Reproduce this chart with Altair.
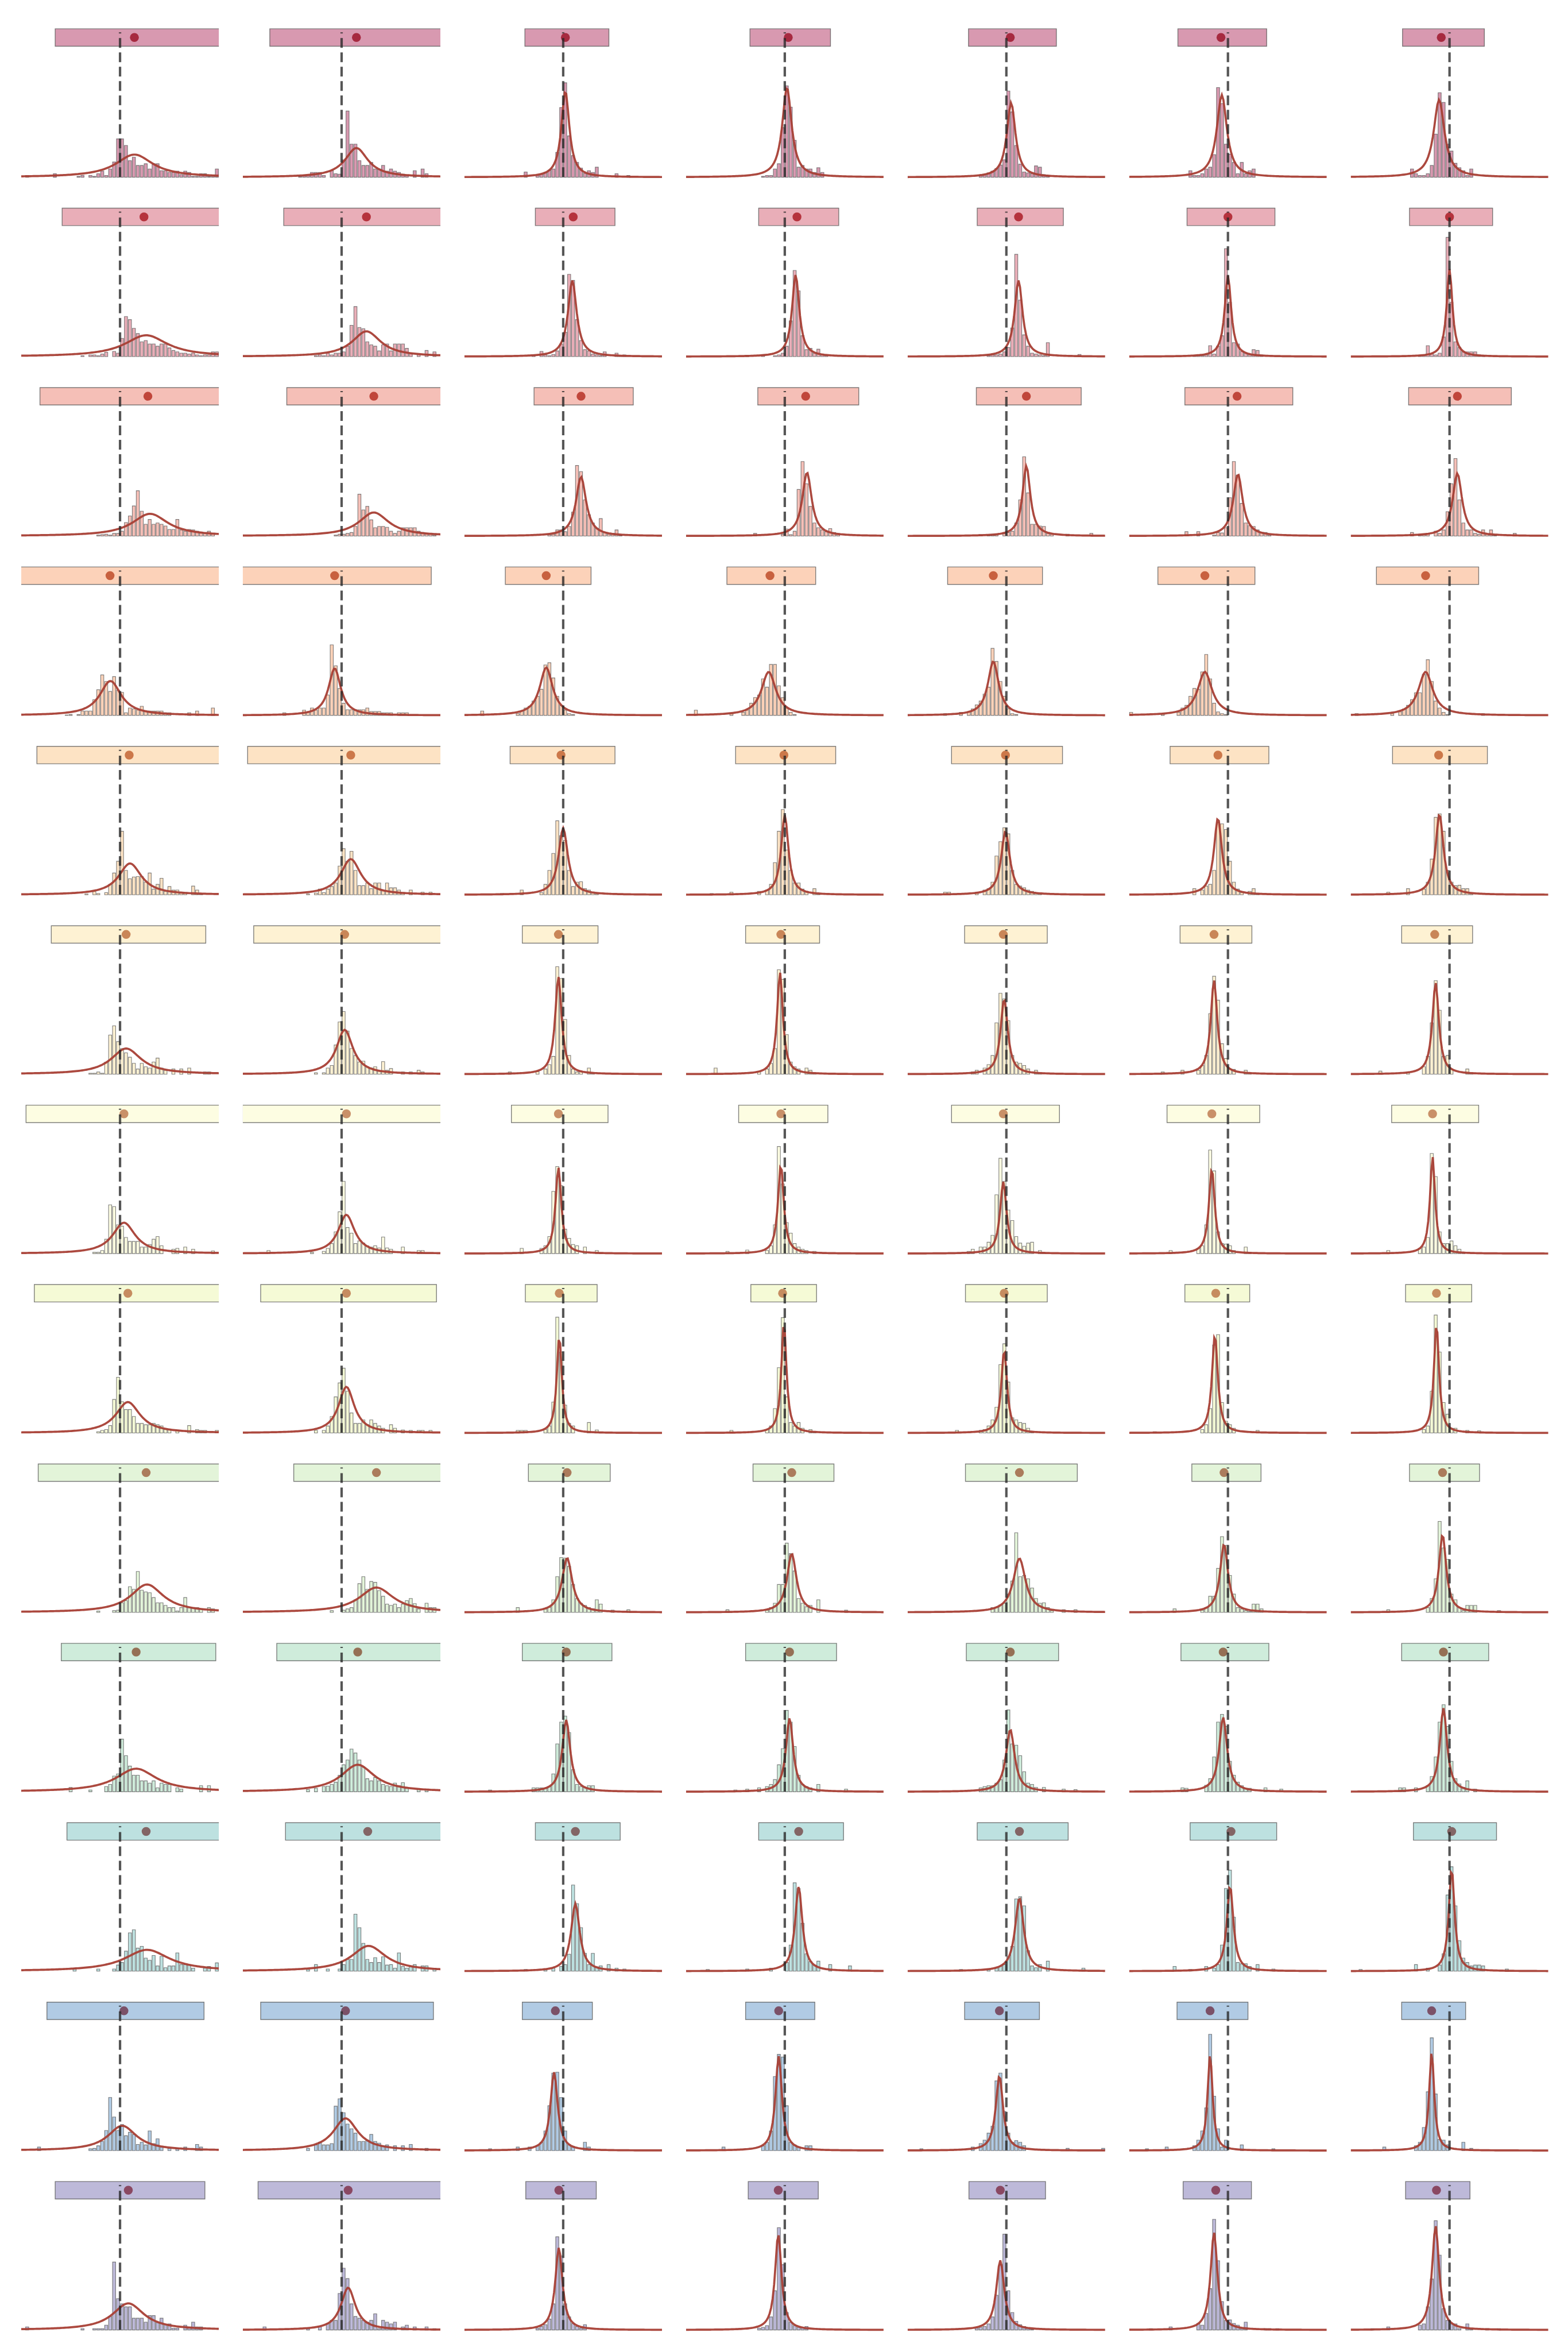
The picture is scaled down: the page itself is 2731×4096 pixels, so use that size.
import altair as alt
import numpy as np
import pandas as pd

S = 0.758                 # drawing scale relative to the reference
HALF = 227.0              # half panel width in reference px (data units)
NBINS = 50
BINW = 2 * HALF / NBINS
YTOP = 357.0              # y-domain top in reference px above baseline
YBOT = -3.0               # small margin under the baseline

ROW_FILL = ["#d899b0", "#e9aeb8", "#f5bfb7", "#fcd2b9", "#fde3c4", "#fef2d3", "#fdfde2",
            "#f5fad6", "#e3f4d9", "#cfecdb", "#bde1e0", "#b1cbe4", "#bdb9d9"]
DOT_COLOR = ["#a62a40", "#b5333d", "#c0463b", "#c8613f", "#cc784a", "#c98658", "#c99068",
             "#c68c60", "#ab7c5c", "#957055", "#836565", "#7b5168", "#8a4862"]

# interval box (left, right), point estimate, per row x 7 columns (offset from reference line)
BOX_L = [[-149, -165, -88, -80, -87, -115, -108],
         [-133, -133, -64, -60, -67, -94, -92],
         [-184, -126, -67, -62, -69, -99, -94],
         [-260, -260, -133, -133, -135, -161, -168],
         [-191, -216, -122, -113, -126, -133, -131],
         [-158, -202, -94, -90, -96, -110, -110],
         [-216, -228, -119, -106, -126, -140, -133],
         [-197, -186, -87, -78, -94, -99, -101],
         [-188, -110, -80, -73, -94, -83, -92],
         [-135, -149, -94, -90, -92, -108, -110],
         [-122, -129, -64, -60, -67, -87, -83],
         [-168, -186, -94, -90, -96, -117, -110],
         [-149, -192, -86, -84, -86, -103, -101]]
BOX_R = [[260, 260, 105, 105, 115, 89, 80],
         [260, 260, 119, 124, 131, 108, 99],
         [260, 260, 161, 170, 172, 149, 142],
         [260, 206, 64, 71, 83, 62, 67],
         [260, 260, 119, 117, 129, 94, 87],
         [197, 260, 80, 80, 94, 55, 53],
         [260, 260, 103, 99, 122, 73, 67],
         [260, 218, 78, 73, 94, 50, 51],
         [260, 260, 108, 113, 163, 76, 69],
         [220, 260, 112, 119, 120, 94, 90],
         [260, 260, 131, 135, 142, 112, 108],
         [193, 211, 67, 69, 76, 46, 37],
         [195, 260, 76, 77, 90, 54, 47]]
DOT_X = [[33, 34, 5, 8, 9, -16, -19],
         [55, 57, 23, 28, 28, 0, 0],
         [64, 74, 41, 48, 46, 21, 18],
         [-23, -16, -39, -34, -30, -53, -55],
         [21, 21, -5, -2, -2, -23, -25],
         [14, 7, -11, -9, -7, -32, -34],
         [9, 11, -11, -9, -7, -37, -39],
         [18, 11, -9, -5, -5, -28, -30],
         [60, 80, 9, 16, 30, -9, -16],
         [37, 37, 7, 11, 9, -11, -14],
         [60, 60, 28, 32, 30, 7, 5],
         [9, 9, -18, -14, -16, -41, -41],
         [19, 15, -10, -15, -14, -28, -30]]

# fitted Cauchy curve: location, peak height, half width
FIT_C = [[33, 34, 5, 5, 11, -14, -24],
         [60, 57, 21, 25, 28, 0, 0],
         [69, 74, 41, 51, 46, 23, 18],
         [-22, -16, -39, -37, -30, -53, -55],
         [23, 21, 0, 0, -2, -23, -23],
         [14, 7, -11, -11, -5, -32, -32],
         [9, 11, -11, -9, -7, -37, -39],
         [18, 11, -9, -2, -5, -30, -30],
         [62, 80, 9, 16, 30, -9, -16],
         [37, 37, 7, 11, 9, -11, -14],
         [62, 62, 28, 32, 30, 5, 5],
         [5, 9, -21, -14, -16, -41, -41],
         [19, 15, -10, -15, -14, -32, -32]]
FIT_PEAK = [[52, 67, 198, 206, 171, 189, 178],
            [49, 58, 175, 188, 175, 186, 201],
            [51, 54, 136, 146, 161, 142, 144],
            [79, 108, 110, 100, 124, 100, 100],
            [72, 82, 153, 183, 146, 176, 185],
            [59, 102, 224, 234, 173, 216, 210],
            [71, 89, 198, 204, 165, 195, 223],
            [71, 106, 223, 254, 191, 226, 251],
            [64, 57, 125, 135, 124, 157, 179],
            [53, 62, 165, 169, 143, 171, 192],
            [49, 58, 155, 194, 168, 196, 235],
            [57, 74, 180, 217, 172, 220, 226],
            [61, 97, 189, 220, 160, 224, 239]]
FIT_HW = [[52, 32, 11, 13, 12, 14, 15],
          [60, 40, 12, 10, 11, 9, 8],
          [50, 42, 14, 13, 11, 13, 13],
          [30, 17, 18, 20, 15, 20, 20],
          [32, 28, 13, 10, 12, 11, 11],
          [42, 23, 9, 8, 10, 9, 9],
          [32, 23, 8, 8, 9, 8, 7],
          [34, 22, 7, 7, 8, 8, 7],
          [46, 48, 14, 13, 17, 11, 10],
          [57, 47, 11, 10, 12, 11, 10],
          [63, 48, 12, 10, 12, 9, 8],
          [40, 34, 10, 9, 10, 7, 7],
          [44, 20, 10, 9, 11, 9.5, 9.8]]

# histogram: first bin index of each panel, then bar heights from that bin on
HIST_START = [[1, 14, 15, 19, 18, 15, 15],
              [15, 18, 17, 15, 20, 16, 17],
              [19, 23, 21, 17, 18, 14, 15],
              [11, 10, 4, 2, 9, 0, 1],
              [16, 16, 9, 6, 9, 10, 9],
              [17, 18, 11, 7, 16, 8, 7],
              [18, 6, 14, 10, 15, 10, 9],
              [19, 18, 13, 11, 12, 6, 18],
              [19, 22, 13, 10, 21, 11, 9],
              [12, 16, 6, 12, 18, 13, 12],
              [13, 16, 15, 5, 13, 11, 2],
              [4, 16, 6, 9, 3, 4, 8],
              [1, 5, 18, 18, 17, 5, 5]]

HIST_R01 = [
    [4,0,0,0,0,0,0,8,0,0,0,0,0,2,4,0,4,2,8,14,4,19,35,88,88,73,38,46,27,27,31,19,31,31,15,15,11,11,14,6,14,11,2,2,8,8,2,4,19],
    [2,4,4,11,11,11,4,0,15,8,7,40,152,76,76,38,27,27,34,19,19,27,14,19,14,11,7,4,0,15,0,19,8],
    [12,0,0,4,7,11,16,19,57,160,217,95,50,34,21,9,15,11,23,0,0,0,0,8,0,0,4],
    [2,4,4,19,31,114,210,161,85,23,27,19,19,11,22,11],
    [4,6,10,14,20,28,40,198,150,73,30,12,10,8,26,23,6,4],
    [15,4,4,8,19,23,52,206,169,76,53,34,8,34,8,15,19],
    [19,8,4,4,8,27,99,194,172,76,60,32,22,15,4,19]]
HIST_R02 = [
    [2,0,4,4,2,6,10,0,12,8,42,92,85,65,53,34,37,29,29,24,29,29,20,14,11,8,8,6,8,4,2,4,4,11,11],
    [2,4,2,8,4,8,8,11,24,72,115,67,64,34,27,24,13,27,29,13,29,29,29,19,8,0,5,0,14,0,11],
    [4,0,12,4,2,5,13,29,56,189,175,85,37,16,13,6,4,2,11,0,0,8,2,4],
    [2,0,0,0,4,0,0,2,4,8,24,82,198,151,48,16,19,8,17,4,2],
    [2,4,4,6,11,21,66,235,130,50,24,8,6,4,2,32,0,0,0,0,0,0,0,5],
    [2,4,2,4,25,6,24,48,248,125,32,29,12,8,4,16,14,4],
    [2,4,25,6,4,8,45,274,125,34,21,11,11,11,11,4,2]]
HIST_R03 = [
    [2,3,4,2,6,6,11,31,46,69,104,57,27,38,27,30,27,23,15,15,38,14,11,15,14,11,8,6,11,6],
    [2,4,4,6,8,22,96,60,68,37,19,22,22,20,11,6,11,19,19,19,19,11,8,6,4,2],
    [3,4,14,14,10,22,55,162,148,83,49,30,18,40,8,4,4,14,2],
    [6,0,0,0,0,0,0,4,16,3,11,107,171,120,68,30,19,14,10,17,8,4],
    [3,0,2,4,4,0,6,8,11,30,83,182,99,27,27,23,22,6,4,0,0,0,4,0,0,0,0,0,6],
    [10,0,0,10,0,0,0,2,8,7,19,88,171,140,75,30,24,22,14,8,8,2],
    [8,0,4,4,6,0,11,6,14,56,120,178,83,30,14,14,6,4,14,4,14,2,0,0,0,0,6]]
HIST_R04 = [
    [1,2,0,2,10,10,10,36,59,93,78,55,89,58,53,6,17,15,12,21,10,10,10,10,10,6,6,0,0,0,0,6,0,10,0,0,0,17],
    [6,0,0,0,0,12,7,17,12,17,17,47,162,114,62,28,13,13,13,13,13,17,9,9,9,6,6,6,0,6,6,6],
    [10,0,0,0,0,0,0,0,0,4,11,17,21,33,44,60,116,121,86,44,23,12,4,2],
    [12,0,0,0,0,0,0,0,0,4,0,0,7,12,28,41,47,84,65,117,117,68,41,17,7,2],
    [4,0,0,0,7,0,8,15,24,33,49,65,154,124,78,44,15,4,2],
    [7,0,0,0,0,0,0,0,3,0,0,0,7,17,23,44,62,60,100,140,84,28,8,4,2],
    [4,0,0,0,0,0,0,0,0,4,0,8,15,23,36,52,52,94,128,78,33,17,7,2,0,0,0,0,0,0,0,0,4]]
HIST_R05 = [
    [2,0,8,3,0,5,24,50,77,146,56,37,41,42,42,29,50,13,24,38,8,19,11,11,5,5,0,20,11,2],
    [2,0,4,13,5,13,19,27,66,106,77,100,56,21,21,27,14,27,27,11,27,16,16,11,5,0,11,0,0,6,0,6],
    [3,0,0,0,0,11,0,0,0,0,5,24,56,95,170,136,125,56,19,29,30,14,11,4,2],
    [3,0,0,0,0,6,0,0,0,0,0,0,8,0,11,24,74,146,196,103,56,27,27,13,8,0,14,2],
    [6,6,0,0,0,0,0,0,5,0,11,14,29,89,122,154,140,56,24,20,16,11,8,4,2],
    [3,0,0,0,0,0,14,0,11,20,24,56,166,163,150,77,29,13,5,0,8,14,2],
    [6,0,0,0,0,14,0,0,0,13,29,82,178,186,146,56,29,21,22,14,14,2]]
HIST_R06 = [
    [2,2,5,2,28,90,111,75,59,49,39,25,12,25,17,14,28,37,14,9,0,12,0,12,0,14,0,0,0,5,5],
    [3,0,3,14,20,67,120,144,99,59,43,28,30,17,14,17,7,29,9,13,0,0,5,0,5,0,9,5],
    [5,0,0,0,0,0,0,6,0,12,22,41,247,220,126,43,12,5,6,0,14,2],
    [14,0,0,0,0,0,0,0,0,0,0,6,0,12,25,59,240,218,91,28,17,12,0,14,9,2],
    [5,9,0,14,22,43,118,186,173,123,43,28,25,20,12,0,9,2],
    [5,0,0,0,0,9,0,0,0,9,20,43,139,225,170,70,36,12,11,0,0,9,2],
    [7,0,0,0,0,0,0,5,0,0,0,17,41,118,215,147,41,43,12,0,0,0,12,2]]
HIST_R07 = [
    [3,3,7,33,112,108,66,63,37,28,28,28,15,15,21,33,39,18,0,0,10,12,0,15,0,10,0,0,0,0,6],
    [7,0,0,0,0,0,0,0,0,0,0,3,0,0,5,12,23,50,96,166,60,47,23,29,24,18,15,18,13,38,13,10,0,0,15,0,0,0,7,7],
    [12,0,0,0,0,12,18,39,143,200,156,56,35,21,18,0,15,0,0,7,2],
    [5,0,0,0,0,8,0,0,0,0,7,18,66,246,160,71,47,23,15,10,7,0,5],
    [5,10,0,15,15,26,42,135,219,166,100,76,39,24,17,24,26,0,7,2],
    [7,0,0,0,0,0,0,12,18,66,238,190,50,23,22,18,7,0,0,15,2],
    [7,0,0,0,0,0,0,0,12,15,37,230,177,50,23,23,29,18,10,2]]
HIST_R08 = [
    [3,6,8,17,77,128,72,54,54,38,22,22,19,19,22,19,16,8,7,0,6,0,0,17,0,8,6,6,0,0,6],
    [6,0,6,16,38,83,115,149,96,46,22,22,30,19,30,22,16,11,0,19,11,0,7,0,6,0,6,6,0,6],
    [6,6,6,0,0,0,0,8,16,71,266,186,64,22,16,0,0,0,24,0,7,2],
    [6,0,0,0,0,0,0,0,0,8,16,56,150,265,83,24,16,24,11,0,8,2],
    [6,0,0,0,0,0,6,8,16,30,59,157,205,117,35,30,24,22,11,4],
    [3,0,0,0,0,0,0,0,0,0,0,0,8,19,56,202,226,70,27,19,11,0,0,0,0,0,6],
    [8,16,96,271,186,70,43,11,11,0,0,6,0,0,5]]
HIST_R09 = [
    [3,0,0,0,4,5,22,27,59,53,94,51,47,45,34,22,22,16,11,11,3,11,34,11,11,11,8,0,11,8],
    [4,0,0,5,8,11,29,66,82,53,71,69,50,37,19,16,19,11,19,27,32,20,8,0,21,11,11],
    [11,0,0,0,0,0,0,8,12,29,82,126,125,106,64,32,21,16,11,8,29,19,0,0,5,0,0,0,6],
    [6,0,0,0,0,0,0,0,0,0,5,11,21,64,64,159,135,95,32,21,13,16,0,29,0,0,0,0,0,0,5],
    [11,12,17,21,42,72,183,82,85,77,56,32,21,22,11,4,0,0,6,0,0,6],
    [8,0,0,0,0,0,0,5,11,37,37,101,174,154,85,42,11,8,4,2,19,19,8],
    [6,0,0,0,0,0,0,0,0,0,11,32,77,209,148,122,42,29,11,4,16,16,16,0,0,0,0,0,4]]
HIST_R10 = [
    [10,0,0,0,0,4,0,0,0,12,17,36,41,121,83,59,38,38,25,25,20,25,9,20,17,17,0,9,6,0,0,0,0,14,0,14],
    [5,0,8,0,12,13,17,22,38,62,73,98,89,73,57,30,25,33,25,17,14,12,20,14,21,9,0,0,6,0,6],
    [4,0,0,0,0,0,0,0,0,0,0,9,9,9,9,12,41,110,160,174,136,51,17,12,10,14,14],
    [4,0,0,6,0,0,9,0,12,17,28,62,99,187,160,104,38,17,12,9,0,17,0,0,0,0,0,0,6],
    [9,12,14,14,20,28,73,188,110,107,83,46,20,17,10,0,10,0,0,0,0,6,0,0,5],
    [9,8,0,0,0,0,15,30,80,160,178,150,70,38,22,14,8,8,0,0,0,9,0,0,0,6],
    [9,9,0,0,9,0,0,14,35,80,160,200,150,70,30,18,10,25,0,6]]
HIST_R11 = [
    [7,0,0,0,0,0,5,0,0,0,5,14,20,46,88,95,53,57,30,25,36,12,34,8,12,12,42,15,15,14,7,0,0,7,11,0,19],
    [4,0,15,0,0,5,0,0,5,15,27,27,131,100,64,27,20,31,20,33,14,15,7,42,11,7,11,15,0,12,12,0,7],
    [4,0,0,0,0,5,0,7,0,11,15,39,198,155,100,41,15,41,10,12,0,15,0,7,0,5],
    [4,0,0,0,0,0,0,0,0,0,5,0,0,0,0,0,7,0,0,0,20,60,203,190,110,40,22,14,23,0,0,15,0,0,0,0,12],
    [4,0,0,0,0,0,0,5,0,7,11,15,33,57,166,171,150,47,12,8,15,0,23,0,0,0,0,0,0,0,0,7],
    [11,0,0,0,4,0,0,0,11,0,7,15,60,190,232,124,20,17,17,11,0,15,0,0,0,5],
    [4,0,0,0,0,0,0,0,0,0,0,0,0,0,15,0,0,7,0,0,14,40,175,240,150,70,30,20,12,14,14,12,0,0,0,0,0,5]]
HIST_R12 = [
    [8,0,0,0,0,0,0,0,0,0,0,0,0,4,5,11,21,46,122,77,46,60,34,42,37,14,19,13,45,16,27,8,0,5,0,5,0,8,0,0,14,8],
    [5,0,13,19,13,13,16,102,119,87,61,50,40,21,21,24,37,21,17,11,13,0,11,0,11,0,14,0,0,0,5],
    [4,0,0,0,0,0,0,8,0,0,8,0,11,19,45,103,178,180,122,45,13,8,0,0,19,8],
    [8,0,0,0,0,0,0,0,0,0,11,19,45,170,221,215,103,19,13,8,0,11,11],
    [4,0,0,0,0,0,0,0,0,0,0,0,0,8,0,16,24,40,56,160,178,90,40,19,23,19,11,0,0,0,0,0,0,0,0,0,0,5,0,0,0,0,0,0,0,0,5],
    [4,0,0,0,0,8,0,0,0,0,0,0,11,24,45,98,267,125,50,8,24,0,0,0,13,0,0,0,0,0,0,0,4],
    [8,0,0,0,0,0,0,0,11,19,53,135,259,130,26,24,13,0,0,0,19,0,5]]
HIST_R13 = [
    [7,0,0,0,0,0,0,0,0,0,0,0,0,0,3,0,0,3,3,3,11,31,156,72,60,53,53,27,27,27,18,33,33,17,27,12,14,4,4,0,11,7,18,7,7],
    [7,0,0,0,0,0,0,0,0,0,0,3,0,0,7,0,15,22,22,84,142,118,60,31,27,22,18,22,37,3,22,18,14,18,0,7,11,0,7,0,0,7,0,3],
    [4,8,12,25,60,214,170,60,30,15,8,4,12],
    [4,6,10,30,90,235,150,40,18,10,6,4,8],
    [4,6,8,14,30,80,150,220,90,40,20,12,8,4,2],
    [3,0,0,0,0,7,0,0,0,0,0,0,15,11,38,95,254,159,65,22,23,15,11,3,18,0,0,0,0,3,3,0,3],
    [3,0,0,0,7,0,0,0,0,0,0,0,11,14,53,117,251,172,49,22,14,14,3,0,14,3,0,0,0,3,0,0,3]]

HIST = [HIST_R01, HIST_R02, HIST_R03, HIST_R04, HIST_R05, HIST_R06, HIST_R07,
        HIST_R08, HIST_R09, HIST_R10, HIST_R11, HIST_R12, HIST_R13]

# ---------------- layout (output px) ----------------
W = 2 * HALF * S
H = (YTOP - YBOT) * S
BASE_Y = YTOP * S
BOX_TOP = (YTOP - 341) * S
BOX_BOT = (YTOP - 301) * S
DOT_Y = (YTOP - 321) * S
RULE_TOP = (YTOP - 333) * S
COL_SPACING = 508 * S - W
ROW_SPACING = 412 * S - H

XS = alt.Scale(domain=[-HALF, HALF], nice=False, zero=False)
YS = alt.Scale(domain=[YBOT, YTOP], nice=False, zero=False)


def panel(r, k):
    fill = ROW_FILL[r]
    start = HIST_START[r][k]
    recs = []
    for i, h in enumerate(HIST[r][k]):
        b = start + i
        if h > 0 and b < NBINS:
            e = -HALF + b * BINW
            recs.append({"x0": round(e + 1.0, 2), "x1": round(e + BINW - 1.0, 2), "h": h, "b0": 0})
    bars_df = pd.DataFrame(recs)

    c, p, hw = FIT_C[r][k], FIT_PEAK[r][k], FIT_HW[r][k]
    xs = np.linspace(-HALF, HALF, 131)
    curve_df = pd.DataFrame({"x": np.round(xs, 2),
                             "y": np.round(p / (1.0 + ((xs - c) / hw) ** 2), 2)})
    est_df = pd.DataFrame({"L": [BOX_L[r][k]], "R": [BOX_R[r][k]], "d": [DOT_X[r][k]], "t": [0]})

    bars = alt.Chart(bars_df).mark_rect(
        fill=fill, stroke="#555555", strokeWidth=1.1, strokeOpacity=0.75
    ).encode(
        x=alt.X("x0:Q", scale=XS, axis=None), x2="x1:Q",
        y=alt.Y("h:Q", scale=YS, axis=None), y2="b0:Q")
    curve = alt.Chart(curve_df).mark_line(
        color="#a83f35", strokeWidth=3.7, opacity=0.95, clip=True
    ).encode(x=alt.X("x:Q", scale=XS, axis=None), y=alt.Y("y:Q", scale=YS, axis=None))
    box = alt.Chart(est_df).mark_rect(
        fill=fill, stroke="#555555", strokeWidth=1.4, strokeOpacity=0.75, clip=True
    ).encode(x=alt.X("L:Q", scale=XS, axis=None), x2="R:Q",
             y=alt.value(BOX_TOP), y2=alt.value(BOX_BOT))
    dot = alt.Chart(est_df).mark_circle(
        size=240, color=DOT_COLOR[r], opacity=1.0
    ).encode(x=alt.X("d:Q", scale=XS, axis=None), y=alt.value(DOT_Y))
    rule = alt.Chart(est_df).mark_rule(
        stroke="#262626", strokeWidth=4.2, opacity=0.78,
        strokeDash=[16.9, 8.1], strokeDashOffset=14.9
    ).encode(x=alt.X("t:Q", scale=XS, axis=None), y=alt.value(RULE_TOP), y2=alt.value(BASE_Y))
    return alt.layer(bars, curve, box, dot, rule).properties(width=W, height=H)


rows = []
for r in range(13):
    rows.append(alt.hconcat(*[panel(r, k) for k in range(7)], spacing=COL_SPACING))

chart = alt.vconcat(*rows, spacing=ROW_SPACING).properties(
    padding={"left": 37, "top": 38, "right": 4, "bottom": 4},
    background="white",
).configure_view(strokeWidth=0)

chart.save("out.html", embed_options={"renderer": "svg", "actions": False})
